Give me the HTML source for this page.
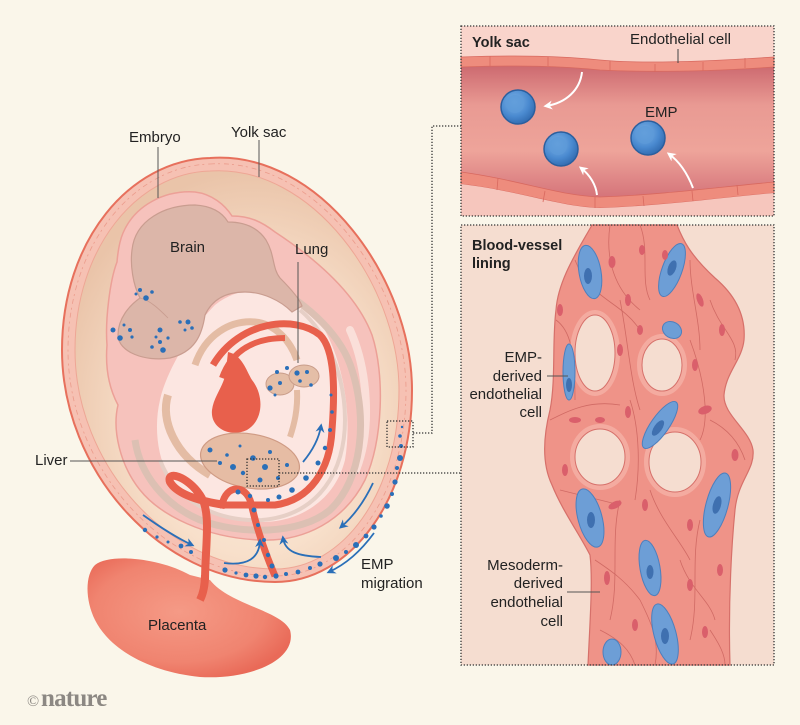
<!DOCTYPE html>
<html><head><meta charset="utf-8"><style>
html,body{margin:0;padding:0;background:#faf6ea;}
svg{display:block;}
text{font-family:"Liberation Sans",sans-serif;fill:#222;font-size:15px;}
.b{font-weight:bold;font-size:14.5px;}
</style></head><body>
<svg width="800" height="725" viewBox="0 0 800 725" xmlns="http://www.w3.org/2000/svg">
<defs>
<radialGradient id="cav" cx="0.55" cy="0.62" r="0.62">
 <stop offset="0" stop-color="#fcefe3"/>
 <stop offset="0.55" stop-color="#f8e0cb"/>
 <stop offset="1" stop-color="#eac4a9"/>
</radialGradient>
<linearGradient id="lumen" x1="0" y1="0" x2="0" y2="1">
 <stop offset="0" stop-color="#cd6a70"/>
 <stop offset="0.3" stop-color="#e99a93"/>
 <stop offset="0.65" stop-color="#eea49a"/>
 <stop offset="1" stop-color="#d5747a"/>
</linearGradient>
<radialGradient id="plac" cx="0.45" cy="0.45" r="0.6">
 <stop offset="0" stop-color="#f59a86"/>
 <stop offset="0.7" stop-color="#f08470"/>
 <stop offset="1" stop-color="#e96a58"/>
</radialGradient>
<radialGradient id="emp" cx="0.4" cy="0.35" r="0.7">
 <stop offset="0" stop-color="#7fb3e6"/>
 <stop offset="0.6" stop-color="#4a8ad0"/>
 <stop offset="1" stop-color="#2f68ad"/>
</radialGradient>
<marker id="ab" viewBox="0 0 10 10" refX="7" refY="5" markerWidth="5" markerHeight="5" orient="auto"><path d="M0,0 L10,5 L0,10 L3,5 Z" fill="#2a6fb8"/></marker>
<marker id="aw" viewBox="0 0 10 10" refX="7" refY="5" markerWidth="4.5" markerHeight="4.5" orient="auto"><path d="M0,0 L10,5 L0,10 L3,5 Z" fill="#ffffff"/></marker>
</defs>
<rect width="800" height="725" fill="#faf6ea"/>

<!-- Yolk sac -->
<path d="M 210 158 C 320 150, 412 280, 412 390 C 412 500, 350 582, 275 582 C 160 582, 62 470, 62 350 C 62 240, 130 160, 210 158 Z" fill="#f6c1b3" stroke="#e7705c" stroke-width="2"/>
<path d="M 210 164 C 316 157, 406 282, 406 390 C 406 497, 347 576, 275 576 C 164 576, 68 467, 68 350 C 68 244, 134 166, 210 164 Z" fill="none" stroke="#eb9c8c" stroke-width="0.8" stroke-dasharray="5 3 2 4"/>
<path d="M 210 171 C 312 164, 399 285, 399 390 C 399 493, 343 569, 275 569 C 168 569, 75 464, 75 350 C 75 248, 137 173, 210 171 Z" fill="url(#cav)" stroke="#eea695" stroke-width="1"/>

<!-- Embryo body -->
<path d="M 123 233 C 135 205, 165 190, 195 192 C 212 194, 225 205, 232 216 C 250 216, 262 222, 275 232 C 310 255, 355 290, 372 335 C 385 375, 383 440, 365 480 C 345 520, 305 542, 260 540 C 205 538, 160 515, 140 490 C 120 465, 112 430, 118 405 C 110 390, 105 370, 107 345 C 105 320, 110 280, 117 262 C 118 250, 120 240, 123 233 Z" fill="#f6c2bc" stroke="#eca097" stroke-width="1.5"/>
<path d="M 350 330 C 368 370, 372 430, 356 470" fill="none" stroke="#fbe6e0" stroke-width="8" stroke-linecap="round" opacity="0.8"/>
<!-- inner hollow -->
<path d="M 160 400 C 165 375, 190 330, 215 305 C 240 285, 275 285, 300 300 C 335 325, 355 400, 345 460 C 335 500, 300 522, 262 522 C 220 522, 185 505, 168 475 C 157 455, 154 425, 160 400 Z" fill="#fce6e1"/>
<!-- stripes -->
<path d="M 265 280 C 300 300, 340 330, 352 370 C 368 420, 362 480, 330 510 C 300 535, 240 535, 200 520 C 165 505, 140 475, 135 440" fill="none" stroke="#dcc0b3" stroke-width="7"/>
<path d="M 300 310 C 330 335, 345 380, 345 420 C 345 470, 320 515, 262 520 C 215 522, 175 500, 160 460" fill="none" stroke="#e6cfc6" stroke-width="4"/>

<!-- Brain -->
<path d="M 132 250 C 135 220, 165 205, 195 205 C 212 206, 222 212, 228 222 C 245 222, 258 228, 266 240 C 275 255, 272 268, 280 278 C 292 290, 300 300, 302 306 L 292 312 C 280 300, 262 292, 245 292 C 225 292, 212 300, 205 315 C 202 335, 195 352, 170 358 C 145 362, 118 352, 118 335 C 118 318, 130 305, 140 298 C 133 285, 130 265, 132 250 Z" fill="#dcb6a9" stroke="#c99d90" stroke-width="1.2"/>
<path d="M 140 298 C 150 300, 160 310, 168 318" fill="none" stroke="#c99d90" stroke-width="0.8"/>
<g fill="#2a6fb8">
<circle cx="140" cy="290" r="2"/><circle cx="146" cy="298" r="2.8"/><circle cx="152" cy="292" r="1.8"/><circle cx="136" cy="294" r="1.5"/>
<circle cx="113" cy="330" r="2.5"/><circle cx="120" cy="338" r="2.8"/><circle cx="130" cy="330" r="2"/><circle cx="124" cy="325" r="1.5"/><circle cx="132" cy="337" r="1.6"/>
<circle cx="160" cy="330" r="2.5"/><circle cx="152" cy="347" r="1.8"/><circle cx="163" cy="350" r="2.8"/><circle cx="160" cy="342" r="2"/><circle cx="168" cy="338" r="1.6"/><circle cx="156" cy="337" r="1.5"/>
<circle cx="180" cy="322" r="1.8"/><circle cx="188" cy="322" r="2.5"/><circle cx="192" cy="328" r="1.8"/><circle cx="185" cy="330" r="1.5"/>
</g>

<!-- gut tubes -->
<path d="M 195 365 C 205 335, 230 320, 255 322 C 275 324, 290 340, 297 360" fill="none" stroke="#e4bca4" stroke-width="7"/>
<path d="M 297 390 C 298 410, 294 425, 290 437" fill="none" stroke="#e4bca4" stroke-width="6"/>
<path d="M 168 395 C 160 420, 175 455, 210 475" fill="none" stroke="#e4bca4" stroke-width="8"/>
<!-- lung -->
<g fill="#e4bea7" stroke="#c99d8a" stroke-width="1">
<ellipse cx="280" cy="384" rx="14" ry="11"/>
<ellipse cx="304" cy="376" rx="15" ry="11"/>
</g>
<g fill="#2a6fb8">
<circle cx="277" cy="372" r="2"/><circle cx="287" cy="368" r="2"/><circle cx="297" cy="373" r="2.6"/><circle cx="307" cy="372" r="2"/><circle cx="270" cy="388" r="2.6"/><circle cx="280" cy="383" r="2"/><circle cx="300" cy="381" r="1.8"/><circle cx="311" cy="385" r="1.8"/><circle cx="275" cy="395" r="1.5"/>
</g>

<!-- red vessels -->
<path d="M 213 365 C 240 320, 295 315, 320 335 C 335 350, 335 390, 332 430 C 330 470, 310 500, 275 505 L 220 505" fill="none" stroke="#e8604c" stroke-width="7"/>
<path d="M 222 378 C 232 350, 255 338, 285 338" fill="none" stroke="#e8604c" stroke-width="6"/>
<path d="M 228 352 C 242 355, 246 370, 252 380 C 264 395, 264 420, 247 430 C 230 438, 210 428, 212 410 C 214 395, 225 385, 226 370 Z" fill="#e8604c"/>
<!-- liver -->
<ellipse cx="250" cy="461" rx="50" ry="27" transform="rotate(10 250 461)" fill="#e6bca4" stroke="#cf9b84" stroke-width="1.2"/>
<g fill="#2a6fb8">
<circle cx="210" cy="450" r="2.5"/><circle cx="220" cy="463" r="2"/><circle cx="227" cy="455" r="1.8"/><circle cx="233" cy="467" r="3"/><circle cx="243" cy="473" r="2.2"/><circle cx="253" cy="458" r="2.8"/><circle cx="265" cy="467" r="3"/><circle cx="270" cy="452" r="2"/><circle cx="260" cy="480" r="2.5"/><circle cx="287" cy="465" r="2"/><circle cx="240" cy="446" r="1.5"/><circle cx="278" cy="478" r="2"/>
</g>
<!-- cord loop & vitelline -->
<path d="M 205 582 C 205 545, 212 512, 200 495 C 187 476, 166 470, 170 482 C 178 496, 205 502, 225 505" fill="none" stroke="#e8604c" stroke-width="8"/>
<path d="M 222 505 C 226 484, 246 484, 251 503 C 257 530, 266 555, 275 576" fill="none" stroke="#e8604c" stroke-width="7"/>
<g fill="#2a6fb8">
<circle cx="331" cy="395" r="1.5"/><circle cx="332" cy="412" r="1.8"/><circle cx="330" cy="430" r="2"/><circle cx="325" cy="448" r="2.2"/><circle cx="318" cy="463" r="2.5"/><circle cx="306" cy="478" r="2.8"/><circle cx="292" cy="490" r="2.8"/><circle cx="279" cy="497" r="2.5"/><circle cx="268" cy="500" r="2"/>
<circle cx="238" cy="492" r="2.5"/><circle cx="250" cy="496" r="2.2"/><circle cx="254" cy="510" r="2.5"/><circle cx="258" cy="525" r="2"/><circle cx="264" cy="540" r="2"/><circle cx="268" cy="555" r="2.2"/><circle cx="272" cy="566" r="2.5"/>
<!-- membrane dots -->
<circle cx="145" cy="530" r="2.2"/><circle cx="157" cy="537" r="1.6"/><circle cx="168" cy="542" r="1.5"/><circle cx="181" cy="546" r="2.4"/><circle cx="191" cy="552" r="2"/>
<circle cx="225" cy="570" r="2.6"/><circle cx="236" cy="573" r="1.6"/><circle cx="246" cy="575" r="2.4"/><circle cx="256" cy="576" r="2.6"/><circle cx="265" cy="577" r="2.2"/><circle cx="276" cy="576" r="2.6"/><circle cx="286" cy="574" r="2"/><circle cx="298" cy="572" r="2.4"/><circle cx="310" cy="568" r="2"/><circle cx="320" cy="564" r="2.6"/><circle cx="336" cy="558" r="3"/><circle cx="346" cy="552" r="2"/><circle cx="356" cy="545" r="3"/><circle cx="366" cy="536" r="2.4"/><circle cx="374" cy="527" r="2.6"/><circle cx="381" cy="516" r="1.8"/><circle cx="387" cy="506" r="2.8"/><circle cx="392" cy="494" r="2"/><circle cx="395" cy="482" r="2.6"/><circle cx="397" cy="468" r="2"/><circle cx="400" cy="458" r="3"/><circle cx="401" cy="446" r="2"/><circle cx="400" cy="436" r="1.8"/><circle cx="402" cy="427" r="1.2"/>
</g>

<!-- placenta -->
<path d="M 95 565 C 110 553, 160 558, 190 575 L 210 580 C 230 605, 280 610, 290 630 C 298 660, 250 680, 200 677 C 150 672, 110 650, 95 620 C 85 600, 85 575, 95 565 Z" fill="url(#plac)"/>
<path d="M 200 600 C 205 590, 205 580, 205 575" stroke="#e8604c" stroke-width="8" fill="none"/>

<!-- blue arrows -->
<g fill="none" stroke="#2a6fb8" stroke-width="1.8" marker-end="url(#ab)">
<path d="M 143 515 C 160 527, 175 537, 192 545"/>
<path d="M 373 483 C 365 500, 355 515, 341 527"/>
<path d="M 374 533 C 360 552, 346 564, 329 572"/>
<path d="M 224 563 C 248 566, 259 558, 260 541"/>
<path d="M 321 557 C 298 556, 285 552, 283 538"/>
<path d="M 303 462 C 313 450, 319 438, 321 426"/>
</g>

<!-- leader lines -->
<g stroke="#555" stroke-width="1" fill="none">
<path d="M 158 147 L 158 198"/>
<path d="M 259 140 L 259 177"/>
<path d="M 298 262 L 298 363"/>
<path d="M 70 461 L 217 461"/>
</g>

<!-- dotted connectors -->
<g stroke="#333" stroke-width="1.3" fill="none" stroke-dasharray="1.3 1.7">
<rect x="387" y="421" width="26" height="26"/>
<rect x="247" y="459" width="32" height="27"/>
<path d="M 413 433 L 432 433 L 432 126 L 461 126"/>
<path d="M 279 473 L 461 473"/>
</g>

<!-- left labels -->
<text x="129" y="142">Embryo</text>
<text x="231" y="137">Yolk sac</text>
<text x="170" y="252">Brain</text>
<text x="295" y="254">Lung</text>
<text x="35" y="465">Liver</text>
<text x="361" y="569">EMP</text>
<text x="361" y="588">migration</text>
<text x="148" y="630">Placenta</text>
<text x="27" y="706" style="font-family:'Liberation Serif',serif;font-size:16px;fill:#8c8883">©</text>
<text x="41" y="706" style="font-family:'Liberation Serif',serif;font-size:25px;font-weight:bold;fill:#8c8883;letter-spacing:-0.8px">nature</text>

<!-- TOP PANEL -->
<rect x="461" y="26" width="313" height="190" fill="#f9d4cb"/>
<path d="M 461 67 C 520 65, 560 66, 600 70 C 640 72, 700 72, 774 67 L 774 182 C 720 187, 660 195, 600 197 C 560 196, 520 180, 461 172 Z" fill="url(#lumen)"/>
<path d="M 461 57 C 520 55, 560 56, 600 60 C 640 64, 700 62, 774 57 L 774 67 C 700 72, 640 72, 600 70 C 560 66, 520 65, 461 67 Z" fill="#ee8c7d" stroke="#d8695f" stroke-width="0.8"/>
<path d="M 461 172 C 520 180, 560 196, 600 197 C 660 195, 720 187, 774 182 L 774 193 C 720 198, 660 206, 600 208 C 560 207, 520 191, 461 184 Z" fill="#ee8c7d" stroke="#d8695f" stroke-width="0.8"/>
<path d="M 461 184 C 520 191, 560 207, 600 208 C 660 206, 720 198, 774 193 L 774 216 L 461 216 Z" fill="#f6c6bd"/>
<g stroke="#d8695f" stroke-width="0.8">
<path d="M 490 56 L 490 66"/><path d="M 548 57 L 548 66"/><path d="M 610 61 L 610 71"/><path d="M 655 64 L 655 72"/><path d="M 703 62 L 703 71"/><path d="M 745 58 L 745 68"/>
<path d="M 498 178 L 497 190"/><path d="M 545 191 L 543 202"/><path d="M 595 197 L 595 208"/><path d="M 643 196 L 644 206"/><path d="M 692 191 L 693 201"/><path d="M 737 185 L 738 195"/>
</g>
<path d="M 678 49 L 678 63" stroke="#444" stroke-width="1"/>
<g>
<circle cx="518" cy="107" r="17" fill="url(#emp)" stroke="#2b5f9e" stroke-width="1.5"/>
<circle cx="515" cy="104" r="9" fill="#5d9ad8" opacity="0.8"/>
<circle cx="561" cy="149" r="17" fill="url(#emp)" stroke="#2b5f9e" stroke-width="1.5"/>
<circle cx="558" cy="146" r="9" fill="#5d9ad8" opacity="0.8"/>
<circle cx="648" cy="138" r="17" fill="url(#emp)" stroke="#2b5f9e" stroke-width="1.5"/>
<circle cx="645" cy="135" r="9" fill="#5d9ad8" opacity="0.8"/>
</g>
<g fill="none" stroke="#ffffff" stroke-width="2" marker-end="url(#aw)">
<path d="M 582 72 C 580 90, 566 103, 546 106"/>
<path d="M 597 195 C 596 185, 590 175, 581 168"/>
<path d="M 693 188 C 688 175, 680 162, 669 154"/>
</g>
<rect x="461" y="26" width="313" height="190" fill="none" stroke="#333" stroke-width="1.3" stroke-dasharray="1.3 1.7"/>
<text x="472" y="47" class="b">Yolk sac</text>
<text x="630" y="44">Endothelial cell</text>
<text x="645" y="117">EMP</text>

<!-- BOTTOM PANEL -->
<rect x="461" y="225" width="313" height="440" fill="#f5ddd0"/>
<path d="M 592 225 L 677 225 C 683 240, 690 255, 715 278 C 735 295, 746 315, 744 340 C 742 360, 726 372, 724 395 C 723 415, 750 430, 753 450 C 755 470, 738 480, 735 510 C 732 540, 728 600, 730 665 L 588 665 C 590 620, 593 580, 590 555 C 580 535, 562 510, 552 485 C 540 460, 545 430, 550 410 C 556 380, 552 340, 556 310 C 558 280, 578 250, 592 225 Z" fill="#ef9388" stroke="#d6706a" stroke-width="1.2"/>
<!-- cell outlines -->
<g fill="none" stroke="#d06a64" stroke-width="0.8">
<path d="M 610 225 C 605 260, 615 290, 640 310"/>
<path d="M 640 225 C 650 250, 640 280, 650 300"/>
<path d="M 575 260 C 590 300, 620 300, 640 330"/>
<path d="M 690 260 C 690 290, 700 320, 700 350"/>
<path d="M 710 300 C 720 330, 740 340, 735 360"/>
<path d="M 556 320 C 570 330, 575 350, 575 400"/>
<path d="M 620 300 C 628 340, 630 380, 640 410"/>
<path d="M 690 340 C 705 380, 710 420, 700 440"/>
<path d="M 550 420 C 570 410, 590 400, 620 405"/>
<path d="M 630 400 C 640 430, 640 470, 635 500"/>
<path d="M 710 420 C 730 430, 740 445, 745 460"/>
<path d="M 560 490 C 580 495, 600 500, 620 505"/>
<path d="M 620 500 C 610 540, 620 580, 610 620"/>
<path d="M 650 490 C 660 520, 680 540, 690 560"/>
<path d="M 700 520 C 690 560, 700 600, 690 640"/>
<path d="M 595 560 C 610 570, 625 580, 640 600"/>
<path d="M 640 600 C 650 620, 660 640, 655 665"/>
<path d="M 680 560 C 690 590, 710 600, 715 620"/>
<path d="M 710 630 C 720 645, 725 655, 725 665"/>
<path d="M 600 630 C 620 640, 630 650, 635 665"/>
</g>
<!-- hole rims and holes -->
<g fill="#f5ddd0" stroke="#f4aba0" stroke-width="6">
<ellipse cx="595" cy="353" rx="22" ry="40"/>
<ellipse cx="662" cy="365" rx="22" ry="28"/>
<ellipse cx="600" cy="457" rx="27" ry="30"/>
<ellipse cx="675" cy="462" rx="28" ry="32"/>
</g>
<g fill="#f5ddd0" stroke="#d6706a" stroke-width="1">
<ellipse cx="595" cy="353" rx="20" ry="38"/>
<ellipse cx="662" cy="365" rx="20" ry="26"/>
<ellipse cx="600" cy="457" rx="25" ry="28"/>
<ellipse cx="675" cy="462" rx="26" ry="30"/>
</g>
<!-- blue cells -->
<g fill="#6d9ed6" stroke="#4d7fbd" stroke-width="1">
<ellipse cx="590" cy="272" rx="11" ry="27" transform="rotate(-10 590 272)"/>
<ellipse cx="672" cy="270" rx="10" ry="28" transform="rotate(20 672 270)"/>
<ellipse cx="569" cy="372" rx="6" ry="28"/>
<ellipse cx="660" cy="425" rx="9" ry="28" transform="rotate(35 660 425)"/>
<ellipse cx="672" cy="330" rx="10" ry="8" transform="rotate(30 672 330)"/>
<ellipse cx="590" cy="518" rx="12" ry="30" transform="rotate(-15 590 518)"/>
<ellipse cx="717" cy="505" rx="11" ry="33" transform="rotate(15 717 505)"/>
<ellipse cx="650" cy="568" rx="10" ry="28" transform="rotate(-10 650 568)"/>
<ellipse cx="665" cy="634" rx="11" ry="31" transform="rotate(-15 665 634)"/>
<ellipse cx="612" cy="652" rx="9" ry="13"/>
</g>
<g fill="#3f70b0">
<ellipse cx="588" cy="276" rx="4" ry="8"/>
<ellipse cx="672" cy="268" rx="4" ry="8" transform="rotate(20 672 268)"/>
<ellipse cx="569" cy="385" rx="3" ry="7"/>
<ellipse cx="658" cy="428" rx="4" ry="9" transform="rotate(35 658 428)"/>
<ellipse cx="591" cy="520" rx="4" ry="8"/>
<ellipse cx="717" cy="505" rx="4" ry="9" transform="rotate(15 717 505)"/>
<ellipse cx="650" cy="572" rx="3.5" ry="7"/>
<ellipse cx="665" cy="636" rx="4" ry="8"/>
</g>
<!-- pink nuclei -->
<g fill="#da5f6b">
<ellipse cx="560" cy="310" rx="3" ry="6"/><ellipse cx="575" cy="420" rx="6" ry="3"/><ellipse cx="565" cy="470" rx="3" ry="6"/>
<ellipse cx="612" cy="262" rx="3.5" ry="6"/><ellipse cx="628" cy="300" rx="3" ry="6"/><ellipse cx="642" cy="250" rx="3" ry="5"/>
<ellipse cx="700" cy="300" rx="3" ry="7" transform="rotate(-20 700 300)"/><ellipse cx="722" cy="330" rx="3" ry="6"/><ellipse cx="735" cy="455" rx="3.5" ry="6"/>
<ellipse cx="705" cy="410" rx="7" ry="4" transform="rotate(-20 705 410)"/><ellipse cx="628" cy="412" rx="3" ry="6"/>
<ellipse cx="615" cy="505" rx="7" ry="3.5" transform="rotate(-25 615 505)"/><ellipse cx="645" cy="505" rx="3" ry="6"/>
<ellipse cx="690" cy="525" rx="3" ry="6"/><ellipse cx="607" cy="578" rx="3" ry="7"/><ellipse cx="635" cy="625" rx="3" ry="6"/>
<ellipse cx="690" cy="585" rx="3" ry="6"/><ellipse cx="705" cy="632" rx="3" ry="6"/><ellipse cx="620" cy="350" rx="3" ry="6"/>
<ellipse cx="695" cy="365" rx="3" ry="6"/><ellipse cx="640" cy="330" rx="3" ry="5"/><ellipse cx="600" cy="420" rx="5" ry="3"/>
<ellipse cx="720" cy="570" rx="3" ry="6"/><ellipse cx="665" cy="255" rx="3" ry="5"/>
</g>
<g stroke="#555" stroke-width="1">
<path d="M 547 376 L 568 376"/>
<path d="M 567 592 L 600 592"/>
</g>
<rect x="461" y="225" width="313" height="440" fill="none" stroke="#333" stroke-width="1.3" stroke-dasharray="1.3 1.7"/>
<text x="472" y="250" class="b">Blood-vessel</text>
<text x="472" y="268" class="b">lining</text>
<g text-anchor="end">
<text x="542" y="362">EMP-</text>
<text x="542" y="381">derived</text>
<text x="542" y="399">endothelial</text>
<text x="542" y="417">cell</text>
<text x="563" y="570">Mesoderm-</text>
<text x="563" y="588">derived</text>
<text x="563" y="607">endothelial</text>
<text x="563" y="626">cell</text>
</g>
</svg>
</body></html>
